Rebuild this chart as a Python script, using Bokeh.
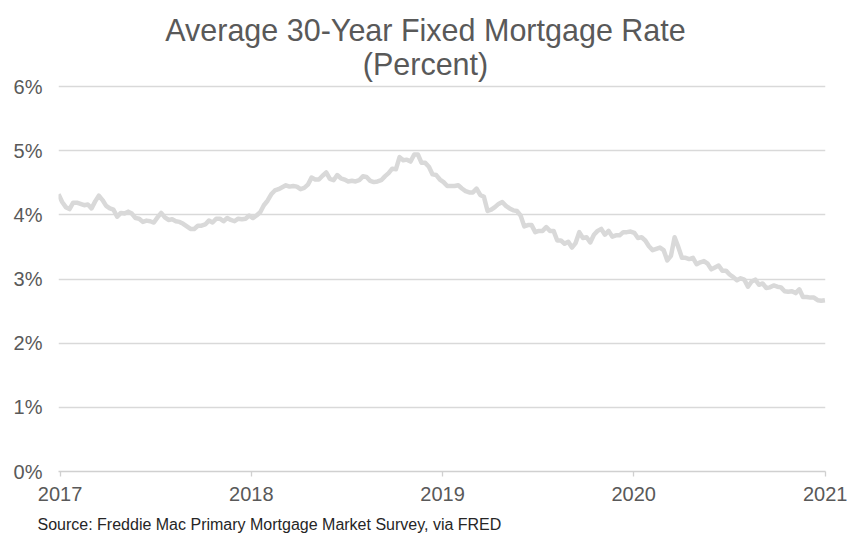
import pandas as pd
from bokeh.plotting import figure
from bokeh.models import Label, Title, FixedTicker, PrintfTickFormatter, DatetimeTickFormatter, Range1d
from bokeh.embed import file_html
from bokeh.resources import INLINE

# Freddie Mac PMMS, 30-year fixed rate, weekly (percent)
start_date = "2016-12-29"
rates_2016 = [4.32]
rates_2017 = [4.20, 4.12, 4.09, 4.19, 4.19, 4.17, 4.15, 4.16, 4.10, 4.21, 4.30, 4.23, 4.14,
              4.10, 4.08, 3.97, 4.03, 4.02, 4.05, 4.02, 3.95, 3.94, 3.89, 3.91, 3.90, 3.88,
              3.96, 4.03, 3.96, 3.92, 3.93, 3.90, 3.89, 3.86, 3.82, 3.78, 3.78, 3.83, 3.83,
              3.85, 3.91, 3.88, 3.94, 3.94, 3.90, 3.95, 3.92, 3.90, 3.94, 3.93, 3.94, 3.99]
rates_2018 = [3.95, 3.99, 4.04, 4.15, 4.22, 4.32, 4.38, 4.40, 4.43, 4.46, 4.44, 4.45, 4.44,
              4.40, 4.42, 4.47, 4.58, 4.55, 4.55, 4.61, 4.66, 4.56, 4.54, 4.62, 4.57, 4.55,
              4.52, 4.53, 4.52, 4.54, 4.60, 4.59, 4.53, 4.51, 4.52, 4.54, 4.60, 4.65, 4.72,
              4.71, 4.90, 4.85, 4.86, 4.83, 4.94, 4.94, 4.81, 4.81, 4.75, 4.63, 4.62, 4.55]
rates_2019 = [4.51, 4.45, 4.45, 4.45, 4.46, 4.41, 4.37, 4.35, 4.35, 4.41, 4.31, 4.28, 4.06,
              4.08, 4.12, 4.17, 4.20, 4.14, 4.10, 4.07, 4.06, 3.99, 3.82, 3.84, 3.84, 3.73,
              3.75, 3.75, 3.81, 3.75, 3.75, 3.60, 3.60, 3.55, 3.58, 3.49, 3.56, 3.73, 3.64,
              3.65, 3.57, 3.69, 3.75, 3.78, 3.69, 3.75, 3.66, 3.68, 3.68, 3.73, 3.73, 3.74]
rates_2020 = [3.72, 3.64, 3.65, 3.60, 3.51, 3.45, 3.47, 3.49, 3.45, 3.29, 3.36, 3.65, 3.50,
              3.33, 3.33, 3.31, 3.33, 3.23, 3.26, 3.28, 3.24, 3.15, 3.18, 3.21, 3.13, 3.13,
              3.07, 3.03, 2.98, 3.01, 2.99, 2.88, 2.96, 2.99, 2.91, 2.93, 2.86, 2.87, 2.90,
              2.88, 2.87, 2.81, 2.80, 2.81, 2.78, 2.84, 2.72, 2.72, 2.71, 2.71, 2.67, 2.66, 2.67]

year_ticks = ["2017-01-01", "2018-01-01", "2019-01-01", "2020-01-01", "2021-01-01"]
y_ticks = [0, 1, 2, 3, 4, 5, 6]

title_line1 = "Average 30-Year Fixed Mortgage Rate"
title_line2 = "(Percent)"
source_text = "Source: Freddie Mac Primary Mortgage Market Survey, via FRED"

rates = rates_2016 + rates_2017 + rates_2018 + rates_2019 + rates_2020
dates = pd.date_range(start=start_date, periods=len(rates), freq="7D")

TEXT = "#595959"
GRID = "#d9d9d9"
FONT = "Liberation Sans"

# Frame spans the full height above the x axis (471 px); the 6% line sits 86 px below the top,
# the title lives in the headroom above it.
FRAME_H = 471
PLOT_H = 385
y_top = y_ticks[-1] * FRAME_H / PLOT_H

p = figure(width=847, height=543, x_axis_type="datetime",
           output_backend="svg", toolbar_location=None,
           min_border_left=58, min_border_right=22, min_border_top=0, min_border_bottom=72)
p.title = None
p.x_range = Range1d(pd.Timestamp(start_date), pd.Timestamp("2021-01-01"))
p.y_range = Range1d(0, y_top)

p.line(dates, rates, line_color=GRID, line_width=4.5, line_join="round")

p.outline_line_color = None
p.xgrid.grid_line_color = None
p.ygrid.grid_line_color = GRID
p.ygrid.grid_line_width = 1.3
p.ygrid.ticker = FixedTicker(ticks=y_ticks)

p.yaxis.ticker = FixedTicker(ticks=y_ticks)
p.yaxis.formatter = PrintfTickFormatter(format="%d%%")
p.yaxis.axis_line_color = None
p.yaxis.major_tick_line_color = None
p.yaxis.minor_tick_line_color = None
p.yaxis.major_tick_out = 0
p.yaxis.major_tick_in = 0
p.yaxis.major_label_standoff = 16

tick_ms = [pd.Timestamp(t).value // 10**6 for t in year_ticks]
p.xaxis.ticker = FixedTicker(ticks=tick_ms)
p.xaxis.formatter = DatetimeTickFormatter(years="%Y", months="%Y", days="%Y", hours="%Y")
p.xaxis.axis_line_color = "#d0d0d0"
p.xaxis.axis_line_width = 1.3
p.xaxis.major_tick_line_color = "#d0d0d0"
p.xaxis.major_tick_line_width = 1.3
p.xaxis.major_tick_out = 5
p.xaxis.major_tick_in = 0
p.xaxis.minor_tick_line_color = None
p.xaxis.major_label_standoff = 10

for ax in (p.xaxis, p.yaxis):
    ax.major_label_text_font = FONT
    ax.major_label_text_font_size = "20px"
    ax.major_label_text_color = TEXT

p.add_layout(Label(x=367, y=442, x_units="screen", y_units="screen", text=title_line1,
                   text_align="center", text_baseline="alphabetic", text_font=FONT,
                   text_font_size="30.5px", text_color=TEXT))
p.add_layout(Label(x=367, y=408, x_units="screen", y_units="screen", text=title_line2,
                   text_align="center", text_baseline="alphabetic", text_font=FONT,
                   text_font_size="30.5px", text_color=TEXT))
p.add_layout(Title(text=source_text, align="left", offset=-21, text_font=FONT, text_font_size="16px",
                   text_font_style="normal", text_color="#262626", standoff=21), "below")

open("out.html", "w").write(file_html(p, INLINE))
